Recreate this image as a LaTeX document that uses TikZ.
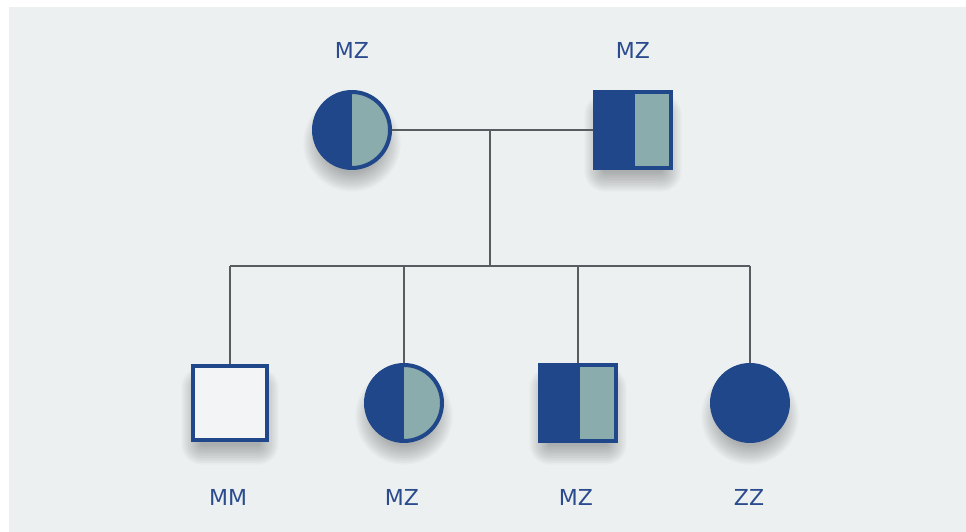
\documentclass[tikz,border=0pt]{standalone}
\usepackage{fontspec}
\setmainfont{DejaVu Sans}
\definecolor{pblue}{HTML}{1F4789}
\definecolor{pteal}{HTML}{8AACAC}
\definecolor{pgray}{HTML}{575C60}
\definecolor{pbg}{HTML}{EDF0F1}
\definecolor{ptext}{HTML}{2A4B8D}
\tikzset{
  femhalf/.style={circle, minimum size=76pt, inner sep=0pt, draw=pblue, line width=4pt, fill=pteal,
    path picture={\fill[pblue] (path picture bounding box.south west) rectangle (path picture bounding box.north);}},
  malhalf/.style={rectangle, minimum size=76pt, inner sep=0pt, draw=pblue, line width=4pt, fill=pblue,
    path picture={\fill[pteal] ([xshift=2pt,yshift=1pt]path picture bounding box.south) rectangle ([xshift=-1pt,yshift=-1pt]path picture bounding box.north east);}},
  malempty/.style={rectangle, minimum size=74pt, inner sep=0pt, draw=pblue, line width=4pt, fill=pbg!70!white},
  femfull/.style={circle, minimum size=78pt, inner sep=0pt, draw=pblue, line width=2pt, fill=pblue},
  lbl/.style={text=ptext, font=\fontsize{22}{24}\selectfont, inner sep=0pt},
  conn/.style={draw=pgray, line width=2.6pt},
  shadlayer/.style={fill=black, opacity=0.022}
}
\newcommand{\shadcirc}[2]{%
  \foreach \i in {0,...,11} {\fill[shadlayer] (#1,#2-13) circle ({30+\i*1.7});}}
\newcommand{\shadsq}[2]{%
  \foreach \i in {0,...,11} {\fill[shadlayer, rounded corners={2+\i*1.7}] ({#1-30-\i*1.7},{#2-13-30-\i*1.7}) rectangle ({#1+30+\i*1.7},{#2-13+30+\i*1.7});}}
\begin{document}
\begin{tikzpicture}[x=1pt,y=1pt]
\useasboundingbox (0,0) rectangle (966,532);
\fill[white] (0,0) rectangle (966,532);
\fill[pbg] (9,0) rectangle (966,525);
% shadows
\shadcirc{352}{402}
\shadsq{633}{402}
\shadsq{230}{129}
\shadcirc{404}{129}
\shadsq{578}{129}
\shadcirc{750}{129}
% parents
\node[femhalf] (f1) at (352,402) {};
\node[malhalf] (m1) at (633,402) {};
% children
\node[malempty] (c1) at (230,129) {};
\node[femhalf] (c2) at (404,129) {};
\node[malhalf] (c3) at (578,129) {};
\node[femfull] (c4) at (750,129) {};
% labels
\node[lbl] (lf1) at (352,482) {MZ};
\node[lbl] (lm1) at (633,482) {MZ};
\node[lbl] (lc1) at (228,35) {MM};
\node[lbl] (lc2) at (402,35) {MZ};
\node[lbl] (lc3) at (576,35) {MZ};
\node[lbl] (lc4) at (749,35) {ZZ};
% connectors
\coordinate (mid) at (490,402);
\coordinate (sib) at (490,266);
\draw[conn] (f1.east) -- (m1.west);
\draw[conn] (mid) -- (sib);
\draw[conn] (c1 |- sib) -- (c4 |- sib);
\draw[conn] (c1 |- sib) -- (c1.north);
\draw[conn] (c2 |- sib) -- (c2.north);
\draw[conn] (c3 |- sib) -- (c3.north);
\draw[conn] (c4 |- sib) -- (c4.north);
\end{tikzpicture}
\end{document}
